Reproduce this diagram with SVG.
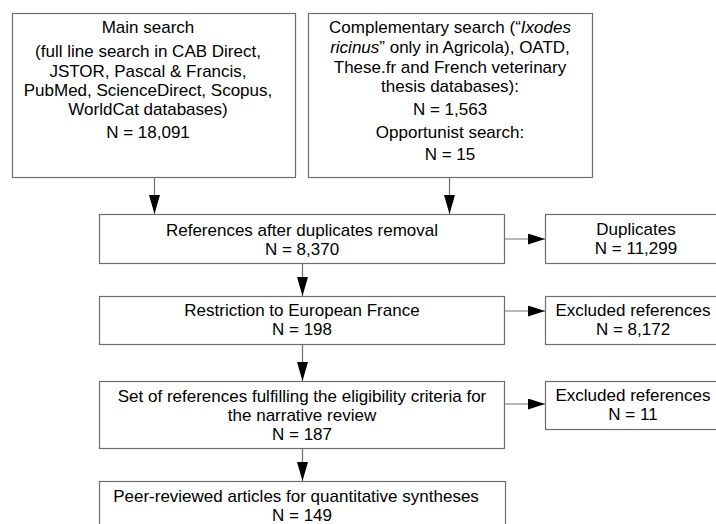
<svg xmlns="http://www.w3.org/2000/svg" width="716" height="524" viewBox="0 0 716 524">
<style>
.box{fill:#fff;stroke:#6e6e6e;stroke-width:1.2}
.t{font-family:"Liberation Sans",Arial,sans-serif;font-size:17px;fill:#000;text-anchor:middle}
.c{stroke:#6e6e6e;stroke-width:1.2;fill:none}
</style>
<defs>
<marker id="ah" markerWidth="19" markerHeight="11" refX="19" refY="5.5" orient="auto" markerUnits="userSpaceOnUse">
<path d="M0,0 L19,5.5 L0,11 Z" fill="#000"/>
</marker>
<marker id="ahh" markerWidth="17" markerHeight="11" refX="17" refY="5.5" orient="auto" markerUnits="userSpaceOnUse">
<path d="M0,0 L17,5.5 L0,11 Z" fill="#000"/>
</marker>
</defs>
<rect width="716" height="524" fill="#fff"/>
<g id="connectors">
<line class="c" x1="154.5" y1="177" x2="154.5" y2="214" marker-end="url(#ah)"/>
<line class="c" x1="449.5" y1="177" x2="449.5" y2="214" marker-end="url(#ah)"/>
<line class="c" x1="302.5" y1="263" x2="302.5" y2="296" marker-end="url(#ah)"/>
<line class="c" x1="302.5" y1="344" x2="302.5" y2="381" marker-end="url(#ah)"/>
<line class="c" x1="302.5" y1="448" x2="302.5" y2="481" marker-end="url(#ah)"/>
<line class="c" x1="505" y1="239" x2="545" y2="239" marker-end="url(#ahh)"/>
<line class="c" x1="505" y1="311" x2="545" y2="311" marker-end="url(#ahh)"/>
<line class="c" x1="505" y1="404" x2="545" y2="404" marker-end="url(#ahh)"/>
</g>
<g id="main">
<rect class="box" x="12.5" y="13.5" width="283" height="164"/>
<text class="t" x="148" y="33">Main search</text>
<text class="t" x="148" y="57">(full line search in CAB Direct,</text>
<text class="t" x="148" y="77">JSTOR, Pascal &amp; Francis,</text>
<text class="t" x="148" y="96">PubMed, ScienceDirect, Scopus,</text>
<text class="t" x="148" y="115">WorldCat databases)</text>
<text class="t" x="148" y="138">N = 18,091</text>
</g>
<g id="complementary">
<rect class="box" x="308.5" y="13.5" width="284" height="164"/>
<text class="t" x="450" y="33">Complementary search (“<tspan font-style="italic">Ixodes</tspan></text>
<text class="t" x="450" y="53"><tspan font-style="italic">ricinus</tspan>” only in Agricola), OATD,</text>
<text class="t" x="450" y="73">These.fr and French veterinary</text>
<text class="t" x="450" y="92">thesis databases):</text>
<text class="t" x="450" y="115">N = 1,563</text>
<text class="t" x="450" y="138">Opportunist search:</text>
<text class="t" x="450" y="160">N = 15</text>
</g>
<g id="dedup">
<rect class="box" x="99.5" y="214.5" width="405" height="49"/>
<text class="t" x="302" y="236">References after duplicates removal</text>
<text class="t" x="302" y="255">N = 8,370</text>
</g>
<g id="duplicates">
<rect class="box" x="545.5" y="214.5" width="190" height="49"/>
<text class="t" x="636" y="235">Duplicates</text>
<text class="t" x="636" y="254">N = 11,299</text>
</g>
<g id="restriction">
<rect class="box" x="99.5" y="296.5" width="405" height="48"/>
<text class="t" x="302" y="316">Restriction to European France</text>
<text class="t" x="302" y="335">N = 198</text>
</g>
<g id="excluded1">
<rect class="box" x="545.5" y="296.5" width="190" height="48"/>
<text class="t" x="633" y="316">Excluded references</text>
<text class="t" x="633" y="335">N = 8,172</text>
</g>
<g id="eligible">
<rect class="box" x="99.5" y="381.5" width="405" height="67"/>
<text class="t" x="302" y="402">Set of references fulfilling the eligibility criteria for</text>
<text class="t" x="302" y="421">the narrative review</text>
<text class="t" x="302" y="440">N = 187</text>
</g>
<g id="excluded2">
<rect class="box" x="545.5" y="381.5" width="190" height="48"/>
<text class="t" x="633" y="401">Excluded references</text>
<text class="t" x="633" y="420">N = 11</text>
</g>
<g id="peer">
<rect class="box" x="99.5" y="481.5" width="406" height="60"/>
<text class="t" x="296" y="502">Peer-reviewed articles for quantitative syntheses</text>
<text class="t" x="302" y="521">N = 149</text>
</g>
</svg>
